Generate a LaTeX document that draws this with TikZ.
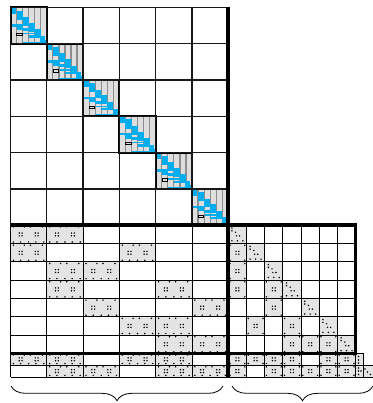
\documentclass[tikz,border=0pt]{standalone}
\usetikzlibrary{decorations.pathreplacing}
\definecolor{cellgray}{HTML}{E4E4E4}
\definecolor{stripe}{HTML}{DEDEDE}
\definecolor{stripeline}{HTML}{8C8C8C}
\definecolor{diagblue}{HTML}{00AEEF}
\def\Xo{10.5}\def\Yo{7.5}\def\BS{36.3}\def\RH{18.3}\def\CW{18.2}
\def\Xa{228.3}\def\Ya{225.3}\def\Xb{355.7}\def\Yb{353.4}\def\Yc{365.2}\def\Yd{377}
\newcommand\dotp[2]{\fill ({#1},{#2}) circle[radius=0.62pt];}
\newcommand\dgroup[2]{\dotp{#1-1.4}{#2-1.4}\dotp{#1+1.4}{#2-1.4}\dotp{#1-1.4}{#2+1.4}\dotp{#1+1.4}{#2+1.4}}
\newcommand\LLcell[4]{%
  \fill[cellgray] ({#1},{#2}) rectangle ({#1+#3},{#2+#4});
  \dgroup{#1+0.28*#3}{#2+0.5*#4}
  \dgroup{#1+0.72*#3}{#2+0.5*#4}
  \foreach \f in {0.08,0.38,0.55,0.88}{\dotp{#1+\f*#3}{#2+1.6}}
  \foreach \f in {0.08,0.28,0.5,0.7,0.92}{\dotp{#1+\f*#3}{#2+#4-1.6}}
}
\newcommand\Rcell[4]{%
  \fill[cellgray] ({#1},{#2}) rectangle ({#1+#3},{#2+#4});
  \dgroup{#1+0.5*#3}{#2+0.5*#4}
  \dotp{#1+1.7}{#2+1.7}\dotp{#1+#3-1.7}{#2+1.7}
  \dotp{#1+1.7}{#2+#4-1.7}\dotp{#1+#3-1.7}{#2+#4-1.7}
}
\newcommand\Tcell[4]{%
  \fill[cellgray] ({#1},{#2}) rectangle ({#1+#3},{#2+#4});
  \foreach \u/\v in {0.2/0.15,0.2/0.3,0.4/0.38,0.45/0.58,0.62/0.58,0.2/0.85,0.5/0.85,0.8/0.85}{\dotp{#1+\u*#3}{#2+\v*#4}}
}
\begin{document}
\begin{tikzpicture}[x=0.75pt,y=-0.75pt,
  gridline/.style={line width=0.95pt,black!90},
  thinline/.style={line width=0.75pt,black},
  thickline/.style={line width=2.8pt,black},
  bluebit/.style={fill=diagblue}]
\useasboundingbox (0,0) rectangle (373,403);
\fill[white] (0,0) rectangle (373,403);
% ---- diagonal blocks
\foreach \i in {0,...,5}{
  \pgfmathsetmacro\bx{\Xo+\i*\BS}
  \pgfmathsetmacro\by{\Yo+\i*\BS}
  \begin{scope}[shift={(\bx,\by)},scale=6.05]
    \fill[stripe] (0,0) rectangle (6,6);
    \foreach \k in {1,...,5}{\draw[stripeline,line width=0.9pt] (\k,0) -- (\k,6);}
    \fill[bluebit] (0,0) rectangle (0.9,1.1);
    \fill[bluebit] (1,0.5) rectangle (2,2.0);
    \fill[bluebit] (0,2.75) rectangle (2.1,3.15);
    \fill[bluebit] (1,3.15) rectangle (2,3.7);
    \fill[bluebit] (2,1.6) rectangle (3,3.0);
    \fill[bluebit] (2,3.4) rectangle (3,3.9);
    \fill[bluebit] (3,2.5) rectangle (4,4.0);
    \fill[bluebit] (2.1,4.2) rectangle (4,4.45);
    \fill[bluebit] (4,3.6) rectangle (5,5.0);
    \fill[bluebit] (3,4.6) rectangle (4,5.0);
    \fill[bluebit] (4.9,4.7) rectangle (5.7,5.9);
    \fill[bluebit] (2,5.65) rectangle (5,5.9);
    \fill[bluebit] (5.35,5.4) rectangle (6,6);
    \draw[line width=0.7pt] (1.05,4.3) rectangle (1.95,4.7);
    \draw[line width=1.5pt] (0,0) rectangle (6,6);
  \end{scope}
}
% ---- top grid
\foreach \k in {0,...,6}{
  \draw[gridline] ({\Xo+\k*\BS},\Yo) -- ({\Xo+\k*\BS},\Ya);
  \draw[gridline] (\Xo,{\Yo+\k*\BS}) -- (\Xa,{\Yo+\k*\BS});
}
% ---- lower-left filled cells (7 rows)
\foreach \c/\r in {1/1,2/1,1/2,4/2,2/3,3/3,2/4,5/4,3/5,6/5,4/6,5/6,5/7,6/7}{
  \pgfmathsetmacro\xx{\Xo+(\c-1)*\BS}
  \pgfmathsetmacro\yy{\Ya+(\r-1)*\RH}
  \LLcell{\xx}{\yy}{\BS}{\RH}
}
\foreach \c in {1,2,4,5}{\pgfmathsetmacro\xx{\Xo+(\c-1)*\BS}\LLcell{\xx}{\Yb}{\BS}{11.8}}
\foreach \c in {2,3,5,6}{\pgfmathsetmacro\xx{\Xo+(\c-1)*\BS}\LLcell{\xx}{\Yc}{\BS}{11.8}}
% ---- right part cells
\foreach \c/\r in {1/2,1/3,1/4,3/4,3/5,2/6,4/6,4/7,5/7,6/7}{
  \pgfmathsetmacro\xx{\Xa+(\c-1)*\CW}
  \pgfmathsetmacro\yy{\Ya+(\r-1)*\RH}
  \Rcell{\xx}{\yy}{\CW}{\RH}
}
\foreach \c in {1,...,7}{
  \pgfmathsetmacro\xx{\Xa+(\c-1)*\CW}
  \pgfmathsetmacro\yy{\Ya+(\c-1)*\RH}
  \Tcell{\xx}{\yy}{\CW}{\RH}
}
\foreach \c in {1,2,3,4,6,7}{\pgfmathsetmacro\xx{\Xa+(\c-1)*\CW}\Rcell{\xx}{\Yb}{\CW}{11.8}}
\foreach \c in {1,3,4,5,6,7}{\pgfmathsetmacro\xx{\Xa+(\c-1)*\CW}\Rcell{\xx}{\Yc}{\CW}{11.8}}
% extra narrow cells
\fill[cellgray] (\Xb,\Yb) rectangle (363,\Yd);
\fill[cellgray] (363,\Yc) rectangle (373,\Yd);
\dotp{358.5}{356.5}\dotp{358.5}{360}\dotp{358.5}{363}
\dotp{358.5}{368}\dotp{358.5}{371}\dotp{361}{371}\dotp{358.5}{374.5}
\dotp{365}{369}\dotp{367.5}{372}\dotp{370.5}{374.5}
\draw[thinline] (\Xb,\Yb) rectangle (363,\Yc);
\draw[thinline] (\Xb,\Yc) rectangle (363,\Yd);
\draw[thinline] (363,\Yc) rectangle (373,\Yd);
% ---- lower grid lines
\foreach \k in {1,...,6}{
  \draw[thinline] (\Xo,{\Ya+\k*\RH}) -- (\Xb,{\Ya+\k*\RH});
}
\draw[thinline] (\Xo,\Yc) -- (\Xb,\Yc);
\draw[thinline] (\Xo,\Yd) -- (\Xb,\Yd);
\foreach \k in {0,...,5}{
  \draw[thinline] ({\Xo+\k*\BS},\Ya) -- ({\Xo+\k*\BS},\Yd);
}
\foreach \k in {1,...,6}{
  \draw[thinline] ({\Xa+\k*\CW},\Ya) -- ({\Xa+\k*\CW},\Yd);
}
\draw[thinline] (\Xb,\Yb) -- (\Xb,\Yd);
% ---- thick separators
\draw[thickline] (\Xa,\Yo) -- (\Xa,\Yd);
\draw[thickline] (\Xo,\Ya) -- (357,\Ya);
\draw[line width=2.4pt] (\Xb,\Ya) -- (\Xb,\Yb);
\draw[thickline] (\Xo,\Yb) -- (357,\Yb);
% ---- braces
\draw[line width=0.6pt,decorate,decoration={brace,mirror,amplitude=11pt}] (11,386) -- (223,386);
\draw[line width=0.6pt,decorate,decoration={brace,mirror,amplitude=11pt}] (232,386) -- (373,386);
\end{tikzpicture}
\end{document}
